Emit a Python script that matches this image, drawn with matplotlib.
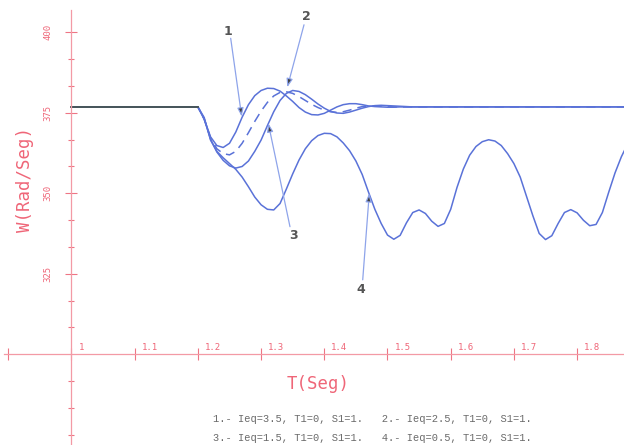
import numpy as np
import matplotlib.pyplot as plt

# time grid of the transient (s) and rotor speed (rad/s)
t_start = 1.0
w_steady = 376.8

w1 = [376.8, 373.0, 367.5, 364.8, 364.2, 365.5, 369.0, 373.6, 377.5, 380.3,
      381.9, 382.6, 382.5, 381.7, 380.2, 378.5, 376.6, 375.2, 374.4, 374.3,
      374.8, 375.8, 376.8, 377.5, 377.8, 377.8, 377.5, 377.1, 376.9, 376.8,
      376.7, 376.7, 376.8, 376.8, 376.8, 376.8]
w2 = [376.8, 373.0, 367.2, 363.8, 362.3, 361.9, 363.0, 365.5, 368.8, 372.3,
      375.5, 378.2, 380.2, 381.3, 381.5, 381.0, 380.0, 378.8, 377.6, 376.6,
      375.8, 375.3, 375.1, 375.3, 375.8, 376.4, 376.9, 377.1, 377.1, 377.0,
      376.9, 376.8, 376.8, 376.8, 376.8, 376.8]
w3 = [376.8, 373.0, 366.8, 362.8, 360.2, 358.5, 357.8, 358.3, 360.0, 363.0,
      366.5, 371.0, 375.3, 378.8, 381.0, 381.9, 381.6, 380.6, 379.2, 377.7,
      376.4, 375.4, 374.9, 374.8, 375.2, 375.8, 376.4, 376.9, 377.2, 377.3,
      377.2, 377.1, 377.0, 376.9, 376.8, 376.8]
w4 = [376.8, 373.5, 366.5, 363.0, 361.0, 359.2, 357.4, 355.0, 352.0, 348.8,
      346.4, 345.0, 344.8, 346.8, 351.3, 356.0, 360.3, 363.8, 366.3, 367.9,
      368.6, 368.5, 367.5, 365.6, 363.2, 360.0, 355.8, 350.3, 345.0, 340.6,
      337.0, 335.7, 336.9, 340.8, 344.0, 344.8, 343.7, 341.3, 339.7, 340.6,
      345.0, 351.8, 357.5, 361.8, 364.5, 366.0, 366.6, 366.2, 364.8, 362.3,
      359.2, 355.0, 349.0, 343.0, 337.5, 335.6, 336.8, 340.6, 344.0, 344.9,
      343.9, 341.6, 339.9, 340.3, 344.0, 350.3, 356.3, 361.3, 365.3]
t_end = 1.88

x_ticks = [0.9, 1.0, 1.1, 1.2, 1.3, 1.4, 1.5, 1.6, 1.7, 1.8]
x_labels = ['', '1', '1.1', '1.2', '1.3', '1.4', '1.5', '1.6', '1.7', '1.8']
y_ticks = [325, 350, 375, 400]
y_minor = [275, 283.33, 291.67, 308.33, 316.67, 333.33, 341.67,
           358.33, 366.67, 383.33, 391.67]

legend_rows = ["1.- Ieq=3.5, T1=0, S1=1.   2.- Ieq=2.5, T1=0, S1=1.",
               "3.- Ieq=1.5, T1=0, S1=1.   4.- Ieq=0.5, T1=0, S1=1."]

# curve tags: label position, arrow tail, arrow tip (data coords)
tags = [('1', (1.2481, 400.2), (1.2519, 398.1), (1.2693, 373.8)),
        ('2', (1.3722, 404.8), (1.3679, 402.3), (1.3415, 382.9)),
        ('3', (1.3509, 337.0), (1.3457, 339.6), (1.3114, 371.7)),
        ('4', (1.4581, 320.0), (1.4608, 323.1), (1.4712, 350.0))]

blue = '#5a72d8'
axis_col = '#f39aa5'
tick_col = '#ee7584'
lab_col = '#ef6678'


def curve(w):
    t = 1.20 + 0.01 * np.arange(len(w))
    tt = np.concatenate([[t_start], t])
    ww = np.concatenate([[w_steady], w])
    if t[-1] < t_end:
        tt = np.append(tt, t_end)
        ww = np.append(ww, w_steady)
    return tt, ww


fig = plt.figure(figsize=(6.24, 4.45), dpi=100)
ax = fig.add_axes([0, 0, 1, 1])
ax.set_xlim(0.8869, 1.8742)
ax.set_ylim(271.8, 410.0)

for name in ['top', 'right']:
    ax.spines[name].set_visible(False)
ax.spines['left'].set_position(('data', 1.0))
ax.spines['bottom'].set_position(('data', 300))
ax.spines['left'].set_bounds(271.8, 407)
ax.spines['bottom'].set_bounds(0.893, 1.8742)
for name in ['left', 'bottom']:
    ax.spines[name].set_color(axis_col)
    ax.spines[name].set_linewidth(0.9)
    ax.spines[name].set_linestyle((0, (1.5, 1)))

ax.set_xticks(x_ticks, labels=[''] * len(x_ticks))
ax.tick_params(axis='x', direction='inout', length=9, width=0.8,
               color=tick_col, labelbottom=False)
for t, lbl in zip(x_ticks, x_labels):
    ax.annotate(lbl, (t, 300), xytext=(5, 1.5), textcoords='offset points',
                ha='left', va='bottom', fontsize=6.5,
                family='DejaVu Sans Mono', color=lab_col)

ax.set_yticks(y_ticks, labels=[str(v) for v in y_ticks])
ax.set_yticks(y_minor, minor=True)
ax.tick_params(axis='y', which='major', direction='inout', length=9,
               width=0.8, color=tick_col, labelcolor=lab_col, labelsize=6.5,
               pad=9, labelrotation=90)
ax.tick_params(axis='y', which='minor', direction='inout', length=5,
               width=0.8, color=tick_col)
for lbl in ax.get_yticklabels():
    lbl.set_family('DejaVu Sans Mono')
    lbl.set_va('center')

for w in (w1, w3, w4):
    tt, ww = curve(w)
    ax.plot(tt, ww, color=blue, lw=1.1, solid_joinstyle='round')
tt, ww = curve(w2)
ax.plot(tt, ww, color=blue, lw=1.1, ls=(0, (6, 4)))
# common pre-fault segment appears darker
tt, ww = curve(w1)
ax.plot(tt[:2], ww[:2], color='#46544f', lw=1.3)

for lbl, pos, tail, tip in tags:
    ax.annotate('', xy=tip, xytext=tail,
                arrowprops=dict(arrowstyle='-|>,head_length=0.5,head_width=0.18',
                                ec='#8ea4ea', fc='#3f3f3f', lw=0.9,
                                shrinkA=0, shrinkB=0))
    ax.text(pos[0], pos[1], lbl, ha='center', va='center', fontsize=9,
            fontweight='bold', color='#555555')

fig.text(0.510, 0.137, 'T(Seg)', ha='center', va='center', fontsize=12.5,
         family='DejaVu Sans Mono', color=lab_col)
fig.text(0.040, 0.596, 'W(Rad/Seg)', ha='center', va='center', rotation=90,
         fontsize=12.5, family='DejaVu Sans Mono', color=lab_col)
for i, row in enumerate(legend_rows):
    fig.text(0.341, 0.0584 - i * 0.0427, row, ha='left', va='center',
             fontsize=7.5, family='Liberation Mono', color='#6a6a6a')

fig.savefig('out.png', dpi=100)
